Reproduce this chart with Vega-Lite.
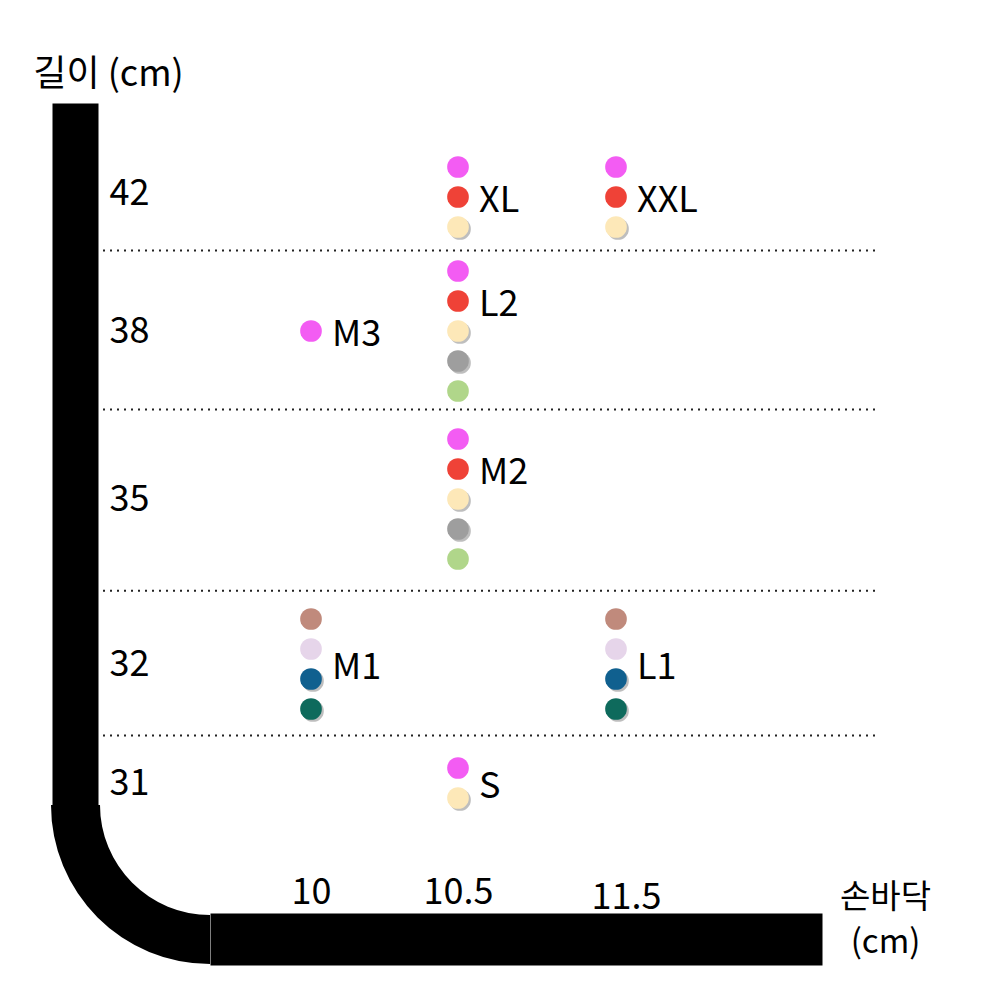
{
  "$schema": "https://vega.github.io/schema/vega-lite/v6.json",
  "autosize": "none",
  "padding": {"left": 98, "top": 103, "right": 125, "bottom": 87},
  "width": 777,
  "height": 810,
  "background": "white",
  "config": {
    "view": {"stroke": null},
    "font": "Noto Sans CJK KR",
    "axis": {"labelFont": "Noto Sans CJK KR", "titleFont": "Noto Sans CJK KR"},
    "text": {"font": "Noto Sans CJK KR"}
  },
  "data": {
    "values": [
      {"size": "XL", "palm": 10.5, "length": 42, "color": "magenta"},
      {"size": "XL", "palm": 10.5, "length": 42, "color": "red"},
      {"size": "XL", "palm": 10.5, "length": 42, "color": "cream"},
      {"size": "XXL", "palm": 11.5, "length": 42, "color": "magenta"},
      {"size": "XXL", "palm": 11.5, "length": 42, "color": "red"},
      {"size": "XXL", "palm": 11.5, "length": 42, "color": "cream"},
      {"size": "L2", "palm": 10.5, "length": 38, "color": "magenta"},
      {"size": "L2", "palm": 10.5, "length": 38, "color": "red"},
      {"size": "L2", "palm": 10.5, "length": 38, "color": "cream"},
      {"size": "L2", "palm": 10.5, "length": 38, "color": "gray"},
      {"size": "L2", "palm": 10.5, "length": 38, "color": "green"},
      {"size": "M3", "palm": 10, "length": 38, "color": "magenta"},
      {"size": "M2", "palm": 10.5, "length": 35, "color": "magenta"},
      {"size": "M2", "palm": 10.5, "length": 35, "color": "red"},
      {"size": "M2", "palm": 10.5, "length": 35, "color": "cream"},
      {"size": "M2", "palm": 10.5, "length": 35, "color": "gray"},
      {"size": "M2", "palm": 10.5, "length": 35, "color": "green"},
      {"size": "M1", "palm": 10, "length": 32, "color": "brown"},
      {"size": "M1", "palm": 10, "length": 32, "color": "lavender"},
      {"size": "M1", "palm": 10, "length": 32, "color": "navy"},
      {"size": "M1", "palm": 10, "length": 32, "color": "teal"},
      {"size": "L1", "palm": 11.5, "length": 32, "color": "brown"},
      {"size": "L1", "palm": 11.5, "length": 32, "color": "lavender"},
      {"size": "L1", "palm": 11.5, "length": 32, "color": "navy"},
      {"size": "L1", "palm": 11.5, "length": 32, "color": "teal"},
      {"size": "S", "palm": 10.5, "length": 31, "color": "magenta"},
      {"size": "S", "palm": 10.5, "length": 31, "color": "cream"}
    ]
  },
  "transform": [
    {"window": [{"op": "row_number", "as": "rn"}, {"op": "count", "as": "n"}], "groupby": ["size"], "frame": [null, null]},
    {"calculate": "datum.rn - 1 - (datum.n - 1) / 2", "as": "off"},
    {"calculate": "datum.n >= 5 ? -1 : 0", "as": "labelOff"}
  ],
  "layer": [
    {
      "data": {"values": [{"boundary": 31.4}, {"boundary": 33.33}, {"boundary": 36.6}, {"boundary": 40.4}]},
      "mark": {"type": "rule", "color": "#222222", "strokeWidth": 2, "strokeDash": [2, 5]},
      "encoding": {
        "y": {"field": "boundary", "type": "quantitative", "axis": null}
      }
    },
    {
      "transform": [{"filter": "indexof(['cream', 'navy', 'teal', 'gray'], datum.color) >= 0"}],
      "mark": {"type": "circle", "size": 470, "opacity": 0.45, "color": "#6f6f6f", "xOffset": 2, "yOffset": {"expr": "datum.off * 30 + 2"}},
      "encoding": {
        "x": {"field": "palm", "type": "quantitative"},
        "y": {"field": "length", "type": "quantitative", "axis": null}
      }
    },
    {
      "mark": {"type": "circle", "size": 470, "opacity": 1, "yOffset": {"expr": "datum.off * 30"}},
      "encoding": {
        "x": {
          "field": "palm", "type": "quantitative",
          "scale": {"domain": [9.6, 10, 10.5, 11.5, 12.5], "range": [112, 213, 360, 518, 724], "zero": false, "nice": false},
          "axis": {
            "orient": "bottom", "offset": 26, "values": [10, 10.5, 11.5], "format": "~g",
            "domainColor": "black", "domainWidth": 52, "ticks": false, "tickSize": 0, "grid": false,
            "labelPadding": {"condition": {"test": "datum.value == 11.5", "value": -42}, "value": -47},
            "labelOffset": {"condition": {"test": "datum.value == 11.5", "value": 10}, "value": 0},
            "labelBaseline": "middle", "labelAlign": "center", "labelFontSize": 36,
            "labelColor": "black", "labelFlush": false, "labelOverlap": false, "labelBound": false,
            "title": ["손바닥", "(cm)"], "titleFontSize": 33, "titleFontWeight": "normal", "titleColor": "black",
            "titleX": 787, "titleY": -32, "titleAlign": "center", "titleBaseline": "alphabetic", "titleAngle": 0,
            "titleLineHeight": 45
          }
        },
        "y": {
          "field": "length", "type": "quantitative",
          "scale": {"domain": [30.5, 31, 32, 35, 38, 42, 45], "range": [702, 680, 561, 396, 228, 94, 0], "zero": false, "nice": false},
          "axis": {
            "orient": "left", "offset": 23, "values": [31, 32, 35, 38, 42], "format": "d",
            "domainColor": "black", "domainWidth": 46, "ticks": false, "tickSize": 0, "grid": false,
            "labelPadding": -34, "labelAlign": "left", "labelBaseline": "middle", "labelFontSize": 36,
            "labelOffset": {"condition": {"test": "datum.value == 42", "value": -4}, "value": 0},
            "labelColor": "black", "labelFlush": false, "labelOverlap": false, "labelBound": false,
            "title": "길이 (cm)", "titleFontSize": 36, "titleFontWeight": "normal", "titleColor": "black",
            "titleX": 33, "titleY": -18, "titleAlign": "center", "titleBaseline": "alphabetic", "titleAngle": 0
          }
        },
        "color": {
          "field": "color", "type": "nominal", "legend": null,
          "scale": {
            "domain": ["magenta", "red", "cream", "gray", "green", "brown", "lavender", "navy", "teal"],
            "range": ["#f35cf3", "#ef4237", "#fde8b8", "#9e9e9e", "#b0d68a", "#c08a7c", "#e6d5ea", "#10608f", "#0e6a5c"]
          }
        }
      }
    },
    {
      "transform": [{"filter": "datum.rn == 1"}],
      "mark": {"type": "text", "align": "left", "baseline": "middle", "dx": 21, "dy": 4, "fontSize": 36, "color": "black", "yOffset": {"expr": "datum.labelOff * 30"}},
      "encoding": {
        "x": {"field": "palm", "type": "quantitative"},
        "y": {"field": "length", "type": "quantitative", "axis": null},
        "text": {"field": "size"}
      }
    },
    {
      "data": {"values": [{}]},
      "mark": {"type": "arc", "color": "black", "theta": 3.14159265, "theta2": 4.71238898, "radius": 159, "radius2": 110},
      "encoding": {
        "x": {"datum": 9.6, "type": "quantitative"},
        "y": {"datum": 30.5, "type": "quantitative", "axis": null}
      }
    }
  ],
  "resolve": {"axis": {"y": "independent"}}
}
